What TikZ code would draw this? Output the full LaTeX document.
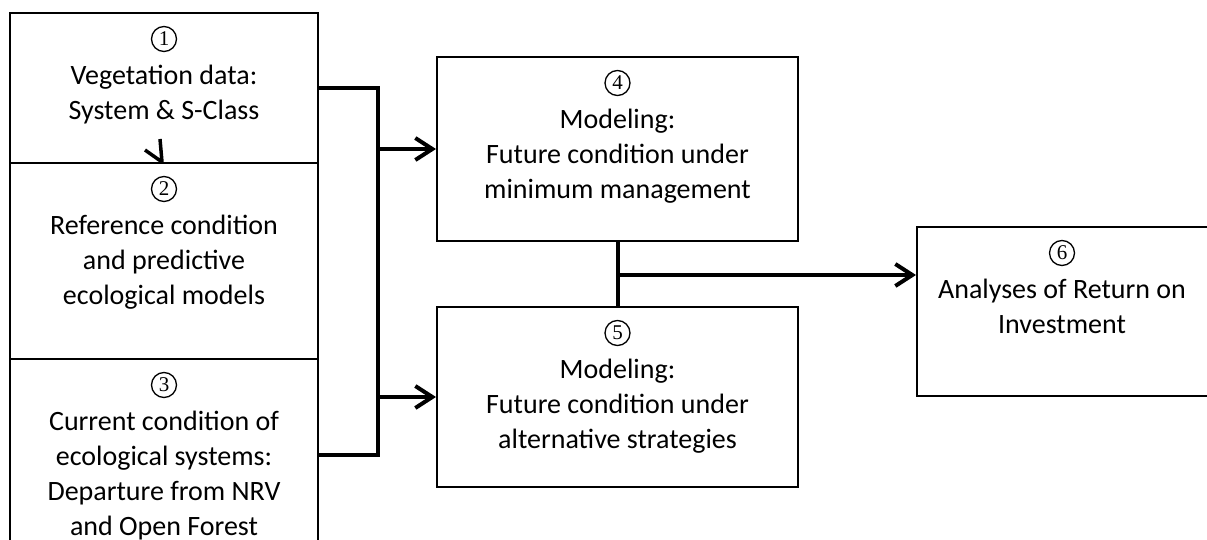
\documentclass[tikz,border=0pt]{standalone}
\usepackage{fontspec}
\setmainfont{Carlito}
\newfontfamily\digitfont{Liberation Serif}
\usetikzlibrary{arrows.meta}
\begin{document}
\begin{tikzpicture}[x=1pt,y=-1pt,
  box/.style={draw, line width=2pt, inner sep=0pt},
  txt/.style={align=center, inner sep=0pt, anchor=north,
              font=\fontsize{28}{35}\selectfont},
  stepnum/.style={circle, draw, line width=1.3pt, inner sep=0pt,
                  minimum size=25pt, font=\digitfont\fontsize{21}{21}\selectfont},
  wire/.style={line width=4pt},
  arrowto/.style={wire, -{Straight Barb[length=17pt,width=22pt]}}]
\clip (0,0) rectangle (1207,540);

% left column of stacked boxes
\node[box, minimum width=308pt, minimum height=150pt] (b1) at (164,88) {};
\node[box, minimum width=308pt, minimum height=196pt] (b2) at (164,261) {};
\node[box, minimum width=308pt, minimum height=200pt] (b3) at (164,459) {};
% modeling boxes
\node[box, minimum width=361pt, minimum height=184pt] (b4) at (617.5,149) {};
\node[box, minimum width=361pt, minimum height=180pt] (b5) at (617.5,397) {};
% analysis box
\node[box, minimum width=292pt, minimum height=169pt] (b6) at (1063,311.5) {};

% step numbers
\node[stepnum] (n1) at ([yshift=-27pt]b1.north) {1};
\node[stepnum] (n2) at ([yshift=-27pt]b2.north) {2};
\node[stepnum] (n3) at ([yshift=-27pt]b3.north) {3};
\node[stepnum] (n4) at ([yshift=-27pt]b4.north) {4};
\node[stepnum] (n5) at ([yshift=-27pt]b5.north) {5};
\node[stepnum] (n6) at ([xshift=-1pt,yshift=-27pt]b6.north) {6};

% box texts
\node[txt] (t1) at ([yshift=-47pt]b1.north)
  {\rule{0pt}{25pt}Vegetation data:\\System \& S-Class};
\node[txt] (t2) at ([yshift=-47pt]b2.north)
  {\rule{0pt}{25pt}Reference condition\\and predictive\\ecological models};
\node[txt] (t3) at ([yshift=-47pt]b3.north)
  {\rule{0pt}{25pt}Current condition of\\ecological systems:\\Departure from NRV\\and Open Forest};
\node[txt] (t4) at ([yshift=-47pt]b4.north)
  {\rule{0pt}{25pt}Modeling:\\Future condition under\\minimum management};
\node[txt] (t5) at ([yshift=-47pt]b5.north)
  {\rule{0pt}{25pt}Modeling:\\Future condition under\\alternative strategies};
\node[txt] (t6) at ([xshift=-1pt,yshift=-47pt]b6.north)
  {\rule{0pt}{25pt}Analyses of Return on\\Investment};

% small arrowhead from box 1 into box 2
\coordinate (tip) at (162,162);
\draw[line width=3.5pt, line join=round] (160,139) -- (tip) -- (145,150);

% collecting bus on the left
\coordinate (jtop) at (378,88);
\coordinate (jbot) at (378,455);
\draw[wire, line join=miter] (b1.east) -- (jtop) -- (jbot) -- (b3.east |- jbot);
\draw[arrowto] (jtop |- b4.west) -- (b4.west);
\draw[arrowto] (jtop |- b5.west) -- (b5.west);

% link between the modeling boxes and on to the analysis
\coordinate (jmid) at (618,275);
\draw[wire] (b4.south) -- (b5.north);
\draw[arrowto] (jmid) -- (b6.west |- jmid);
\end{tikzpicture}
\end{document}
